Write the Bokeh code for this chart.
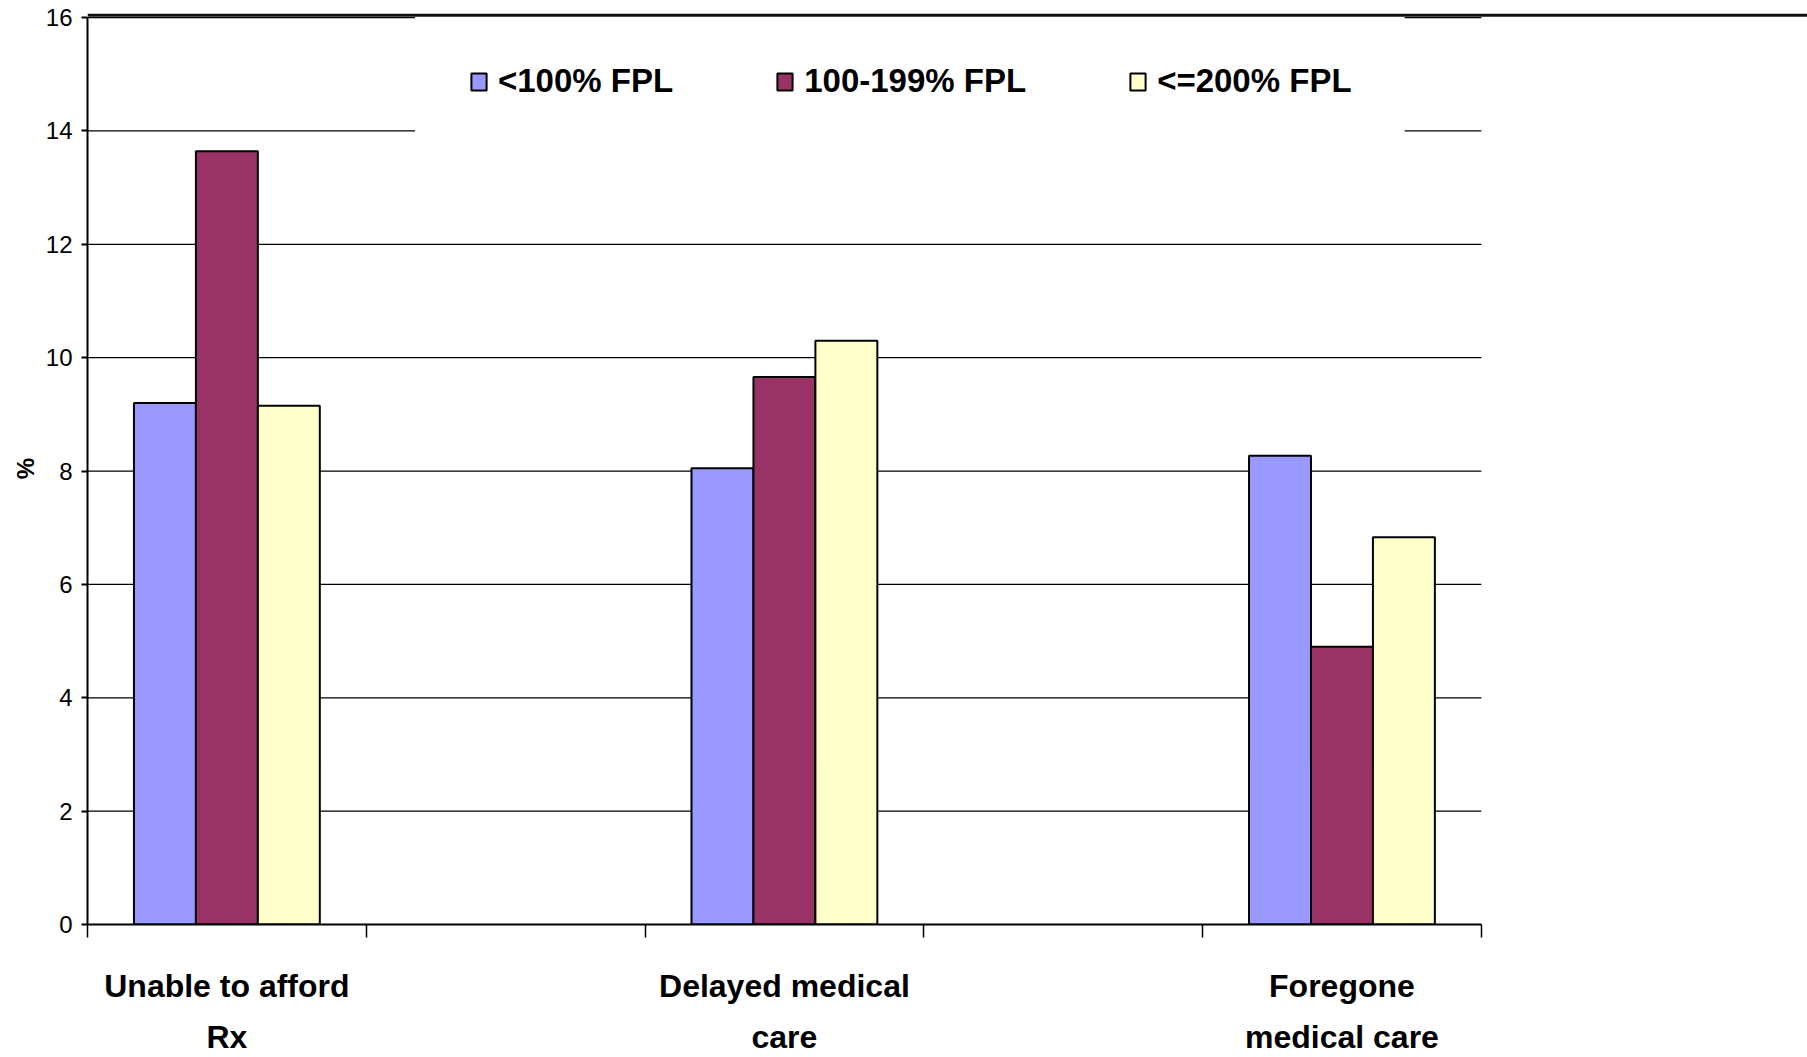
from bokeh.plotting import figure
from bokeh.models import (Range1d, FixedTicker, Legend, LegendItem, BoxAnnotation,
                          Span, LinearAxis)
from bokeh.embed import file_html
from bokeh.resources import INLINE

# Share of respondents reporting each access problem, by income group (% of FPL)
categories = ["Unable to afford\nRx", "Delayed medical\ncare", "Foregone\nmedical care"]
series_names = ["<100% FPL", "100-199% FPL", "<=200% FPL"]
below_100 = [9.2, 8.05, 8.27]
fpl_100_199 = [13.64, 9.66, 4.9]
upto_200 = [9.15, 10.3, 6.83]
series_values = [below_100, fpl_100_199, upto_200]
colors = ["#9999FF", "#993366", "#FFFFCC"]
y_ticks = [0, 2, 4, 6, 8, 10, 12, 14, 16]

FONT = "Liberation Sans, Arial, sans-serif"

# each category occupies every other slot on the axis, leaving empty slots between
n_slots = 2 * len(categories) - 1
slot_centers = [2 * i + 0.5 for i in range(len(categories))]
bar_w = 1 / 4.5
label_lines = [c.split("\n") for c in categories]

p = figure(width=1807, height=1057,
           x_range=Range1d(0, 6.17), y_range=Range1d(0, 16.09),
           output_backend="svg", toolbar_location=None,
           min_border_left=87, min_border_right=0,
           min_border_top=12, min_border_bottom=133)
p.xgrid.visible = False
p.ygrid.visible = False
p.outline_line_color = None
p.background_fill_color = "white"

# horizontal grid lines across the category slots only
p.segment(x0=0, x1=n_slots, y0=y_ticks[1:], y1=y_ticks[1:],
          line_color="black", line_width=1.2, level="underlay")

renderers = []
for j, vals in enumerate(series_values):
    xs = [c + (j - 1) * bar_w for c in slot_centers]
    r = p.vbar(x=xs, top=vals, bottom=0, width=bar_w,
               fill_color=colors[j], line_color="black", line_width=2)
    renderers.append(r)


def style_labels(ax):
    ax.major_label_text_font = FONT
    ax.major_label_text_font_style = "bold"
    ax.major_label_text_font_size = "32px"
    ax.major_label_text_color = "black"


# x axis: boundary ticks between slots, first label line at category centres
xa = p.xaxis[0]
xa.ticker = FixedTicker(ticks=slot_centers, minor_ticks=list(range(n_slots + 1)))
xa.major_label_overrides = {c: ln[0] for c, ln in zip(slot_centers, label_lines)}
xa.bounds = (0, n_slots)
xa.axis_line_width = 2
xa.axis_line_color = "black"
xa.major_tick_out = 0
xa.major_tick_in = 0
xa.minor_tick_out = 13
xa.minor_tick_in = 0
xa.minor_tick_line_width = 1.5
xa.minor_tick_line_color = "black"
xa.major_label_standoff = 30
style_labels(xa)

# second line of each category label
xa2 = LinearAxis(ticker=FixedTicker(ticks=slot_centers, minor_ticks=[]),
                 major_label_overrides={c: ln[-1] for c, ln in zip(slot_centers, label_lines)},
                 bounds=(0, n_slots), axis_line_color=None,
                 major_tick_line_color=None, minor_tick_line_color=None,
                 major_tick_out=0, major_tick_in=0, minor_tick_out=0, minor_tick_in=0,
                 major_label_standoff=12)
style_labels(xa2)
p.add_layout(xa2, "below")

ya = p.yaxis[0]
ya.ticker = FixedTicker(ticks=y_ticks, minor_ticks=[])
ya.bounds = (0, 16)
ya.axis_line_width = 2
ya.axis_line_color = "black"
ya.major_tick_out = 6
ya.major_tick_in = 0
ya.major_tick_line_width = 2
ya.major_tick_line_color = "black"
ya.major_label_standoff = 9
ya.major_label_text_font = FONT
ya.major_label_text_font_size = "24px"
ya.major_label_text_color = "black"
ya.axis_label = "%"
ya.axis_label_standoff = 4
ya.axis_label_text_font = FONT
ya.axis_label_text_font_style = "bold"
ya.axis_label_text_font_size = "24px"
ya.axis_label_text_color = "black"

# white panel behind the legend, and the rule along the top edge
p.add_layout(BoxAnnotation(left=1.175, right=4.725, bottom=13.7, top=16.09,
                           fill_color="white", fill_alpha=1.0, line_alpha=0,
                           level="annotation"))
p.add_layout(Span(location=16.04, dimension="width", line_color="#111111",
                  line_width=3, level="overlay"))

legend = Legend(
    items=[LegendItem(label=name, renderers=[r]) for name, r in zip(series_names, renderers)],
    orientation="horizontal", location=(382, 824), padding=0, margin=0,
    spacing=102, glyph_width=19, glyph_height=21, label_standoff=10,
    label_height=37,
    label_text_font=FONT, label_text_font_style="bold",
    label_text_font_size="33px", label_text_color="black",
    background_fill_alpha=0, border_line_alpha=0,
)
p.add_layout(legend)

open("out.html", "w").write(file_html(p, INLINE))
